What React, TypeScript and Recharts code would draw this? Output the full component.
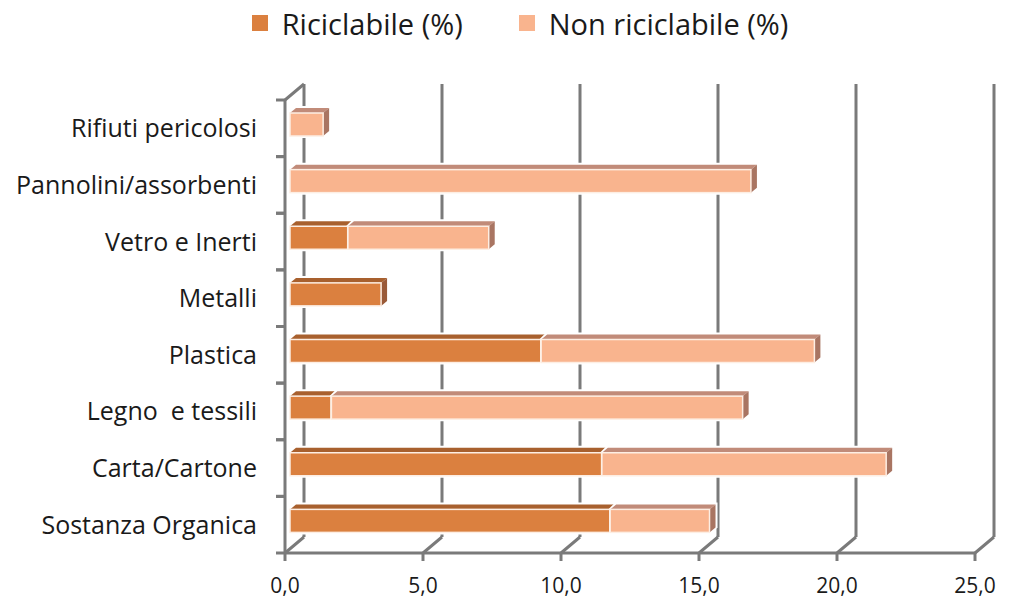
import React from 'react';
import { BarChart, Bar, XAxis, YAxis, CartesianGrid, Legend } from 'recharts';

const categories = ['Rifiuti pericolosi', 'Pannolini/assorbenti', 'Vetro e Inerti', 'Metalli', 'Plastica', 'Legno  e tessili', 'Carta/Cartone', 'Sostanza Organica'];
const riciclabile = [0, 0, 2.1, 3.3, 9.1, 1.5, 11.3, 11.6];
const nonRiciclabile = [1.2, 16.7, 5.1, 0, 9.9, 14.9, 10.3, 3.6];
const xTicks = [0, 5, 10, 15, 20, 25];
const seriesNames = ['Riciclabile (%)', 'Non riciclabile (%)'];

const data = categories.map((name, i) => ({ name, ric: riciclabile[i], non: nonRiciclabile[i] }));

const FONT = '"Open Sans", "DejaVu Sans", sans-serif';
const GRID = '#7a7a7a';
const DX = 19; // depth of back wall
const DY = 16;
const BX = 5; // bar plane offset
const BY = 4;
const BD = 6; // bar depth
const BDY = 5;

const MARGIN = { top: 56, right: 49, bottom: 0, left: 0 };
const CHART_H = 610;
const XAXIS_H = 57;
const LEGEND_H = 44;

const palette = {
  ric: { front: '#DB803F', top: '#A8602E', side: '#9A5A38' },
  non: { front: '#F9B48E', top: '#C18B79', side: '#A97562' },
};

const makeShape = (key: 'ric' | 'non') => (props: any) => {
  const { x, y, width, height } = props;
  if (!width || width <= 0.5) return <g />;
  const c = palette[key];
  const fx = x + BX;
  const fy = y - BY;
  const w = width;
  const h = height;
  const top = `${fx},${fy} ${fx + w},${fy} ${fx + w + BD},${fy - BDY} ${fx + BD},${fy - BDY}`;
  const side = `${fx + w},${fy} ${fx + w + BD},${fy - BDY} ${fx + w + BD},${fy + h - BDY} ${fx + w},${fy + h}`;
  return (
    <g>
      <polygon points={`${fx - 1},${fy + h + 2} ${fx - 1},${fy - 1} ${fx + BD - 1},${fy - BDY - 2} ${fx + w + BD + 2},${fy - BDY - 2} ${fx + w + BD + 2},${fy + h - BDY} ${fx + w + 1},${fy + h + 2}`} fill="#ffffff" />
      <polygon points={top} fill={c.top} />
      <polygon points={side} fill={c.side} />
      <rect x={fx} y={fy} width={w} height={h} fill={c.front} stroke="#fdeee3" strokeWidth={1.5} />
    </g>
  );
};

const XTick = (props: any) => {
  const { x, y, payload } = props;
  const label = Number(payload.value).toFixed(1).replace('.', ',');
  return (
    <g>
      <line x1={x} y1={y} x2={x} y2={y + 8} stroke={GRID} strokeWidth={3} />
      <text x={x} y={y + 40} textAnchor="middle" fontFamily={FONT} fontSize={21} fill="#1a1a1a">{label}</text>
    </g>
  );
};

const YTick = (props: any) => {
  const { x, y, payload } = props;
  const plotH = CHART_H - MARGIN.top - LEGEND_H - XAXIS_H - MARGIN.bottom;
  const band = plotH / categories.length;
  return (
    <g>
      <line x1={x - 9} y1={y - band / 2} x2={x} y2={y - band / 2} stroke={GRID} strokeWidth={3} />
      <line x1={x - 9} y1={y + band / 2} x2={x} y2={y + band / 2} stroke={GRID} strokeWidth={3} />
      <text x={x - 28} y={y + 9} textAnchor="end" fontFamily={FONT} fontSize={25} fill="#1a1a1a" style={{ whiteSpace: 'pre' }}>{payload.value}</text>
    </g>
  );
};

const GridLine = (props: any) => {
  const { x1, y1, y2, index } = props;
  return (
    <g key={`g-${index}-${x1}`}>
      <line x1={x1 + DX} y1={y1 - DY} x2={x1 + DX} y2={y2 - DY} stroke={GRID} strokeWidth={3} />
      <line x1={x1} y1={y2} x2={x1 + DX} y2={y2 - DY} stroke={GRID} strokeWidth={3} />
      {index === 0 ? <line x1={x1} y1={y1} x2={x1 + DX} y2={y1 - DY} stroke={GRID} strokeWidth={3} /> : null}
    </g>
  );
};

const LegendContent = () => (
  <div style={{ height: LEGEND_H, display: 'flex', justifyContent: 'center', alignItems: 'center', fontFamily: FONT, fontSize: 29, color: '#1a1a1a', paddingTop: 2, paddingLeft: 16, boxSizing: 'border-box' }}>
    {(['ric', 'non'] as const).map((k, i) => (
      <div key={k} style={{ display: 'flex', alignItems: 'center', marginRight: i === 0 ? 56 : 0 }}>
        <span style={{ display: 'inline-block', width: 16, height: 16, background: palette[k].front, marginRight: 14 }} />
        <span>{seriesNames[i]}</span>
      </div>
    ))}
  </div>
);

export default function App() {
  return (
    <div style={{ position: 'absolute', left: 0, top: 0, width: 1024, height: 610, background: '#fff' }}>
      <BarChart width={1024} height={CHART_H} data={data} layout="vertical" margin={MARGIN} barSize={23}>
        <Legend verticalAlign="top" align="center" height={LEGEND_H} content={<LegendContent />} wrapperStyle={{ top: 0, left: 0, width: 1024 }} />
        <CartesianGrid horizontal={false} vertical={GridLine as any} />
        <XAxis type="number" domain={[0, 25]} ticks={xTicks} interval={0} height={XAXIS_H} tickSize={0} tickMargin={0} tick={<XTick />} axisLine={{ stroke: GRID, strokeWidth: 3 }} tickLine={false} />
        <YAxis type="category" dataKey="name" width={285} tickSize={0} tickMargin={0} tick={<YTick />} axisLine={{ stroke: GRID, strokeWidth: 3 }} tickLine={false} interval={0} />
        <Bar dataKey="ric" name={seriesNames[0]} stackId="a" fill={palette.ric.front} shape={makeShape('ric')} isAnimationActive={false} />
        <Bar dataKey="non" name={seriesNames[1]} stackId="a" fill={palette.non.front} shape={makeShape('non')} isAnimationActive={false} />
      </BarChart>
    </div>
  );
}
